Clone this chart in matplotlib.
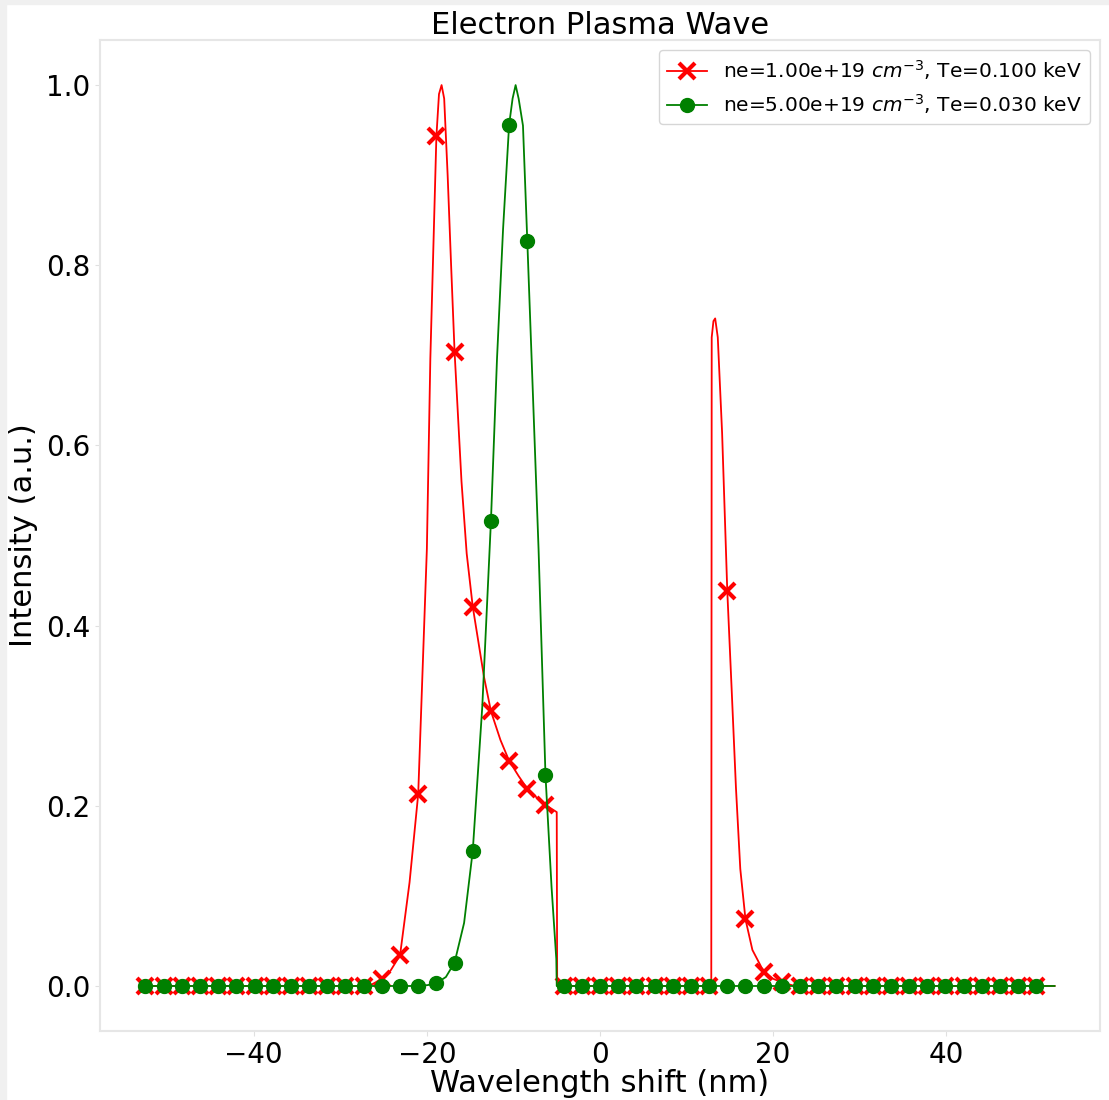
import numpy as np
import matplotlib
matplotlib.use('Agg')
import matplotlib.pyplot as plt
from matplotlib.patches import Rectangle

# wavelength grid where the markers sit (nm)
mark_x = np.round(np.arange(-52.5, 51.0, 2.1), 2)

# intensity at the marker positions
red_mark_y = [0]*13 + [0.008, 0.034, 0.213, 0.943, 0.704, 0.421, 0.305, 0.250, 0.219, 0.201] \
    + [0]*9 + [0.438, 0.074, 0.016, 0.004] + [0]*14
green_mark_y = [0]*16 + [0.003, 0.026, 0.150, 0.516, 0.956, 0.827, 0.234] + [0]*27

# extra points of the curves between markers
red_extra_x = [-26.3, -24.2, -22.0, -20.0, -19.6, -18.6, -18.3, -18.0, -17.6,
               -17.2, -16.0, -15.4, -13.4, -11.5, -9.4, -7.3, -5.0, -4.95,
               12.85, 12.9, 13.1, 13.3, 13.6, 14.1, 15.2, 15.7, 16.2, 17.6,
               20.0, 22.5, 52.5]
red_extra_y = [0.002, 0.017, 0.115, 0.485, 0.696, 0.99, 1.0, 0.985, 0.90,
               0.80, 0.56, 0.48, 0.343, 0.273, 0.233, 0.209, 0.193, 0.0,
               0.0, 0.72, 0.738, 0.741, 0.72, 0.614, 0.33, 0.22, 0.13, 0.04,
               0.008, 0.0, 0.0]
green_extra_x = [-19.9, -17.8, -15.7, -13.6, -11.9, -11.2, -10.1, -9.75, -9.4,
                 -8.9, -7.9, -7.1, -5.6, -5.05, -5.0, 52.5]
green_extra_y = [0.001, 0.010, 0.070, 0.310, 0.696, 0.840, 0.985, 1.0, 0.985,
                 0.955, 0.696, 0.485, 0.110, 0.030, 0.0, 0.0]


def build(mx, my, ex, ey):
    x = np.concatenate([mx, ex])
    y = np.concatenate([my, ey])
    order = np.argsort(x, kind='stable')
    marks = [int(np.where(order == i)[0][0]) for i in range(len(mx))]
    return x[order], y[order], sorted(marks)


rx, ry, rmarks = build(mark_x, red_mark_y, red_extra_x, red_extra_y)
gx, gy, gmarks = build(mark_x, green_mark_y, green_extra_x, green_extra_y)

fig = plt.figure(figsize=(11.09, 11.0), dpi=100)
ax = fig.add_axes([0.0902, 0.0627, 0.9017, 0.9009])

ax.plot(rx, ry, color='red', lw=1.3, marker='x', ms=11, mew=3, markevery=rmarks,
        label=r'ne=1.00e+19 $cm^{-3}$, Te=0.100 keV')
ax.plot(gx, gy, color='green', lw=1.3, marker='o', ms=10, markevery=gmarks,
        label=r'ne=5.00e+19 $cm^{-3}$, Te=0.030 keV')

ax.set_title('Electron Plasma Wave', fontsize=22, pad=4)
ax.set_xlabel('Wavelength shift (nm)', fontsize=22, labelpad=0)
ax.set_ylabel('Intensity (a.u.)', fontsize=22, labelpad=6)
ax.tick_params(labelsize=20, color='#e0e0e0')
ax.set_xticks([-40, -20, 0, 20, 40])
ax.set_yticks([0.0, 0.2, 0.4, 0.6, 0.8, 1.0])
for s in ax.spines.values():
    s.set_color('#e6e6e6')
    s.set_linewidth(1.5)
ax.legend(loc='upper right', fontsize=14.5)

# light grey border along the left and top edge
fig.patches.append(Rectangle((0, 0), 6/1109, 1, transform=fig.transFigure,
                             color='#f0f0f0', zorder=-1))
fig.patches.append(Rectangle((0, 1 - 4/1100), 1, 4/1100, transform=fig.transFigure,
                             color='#f0f0f0', zorder=-1))

plt.savefig('out.png', dpi=100)
